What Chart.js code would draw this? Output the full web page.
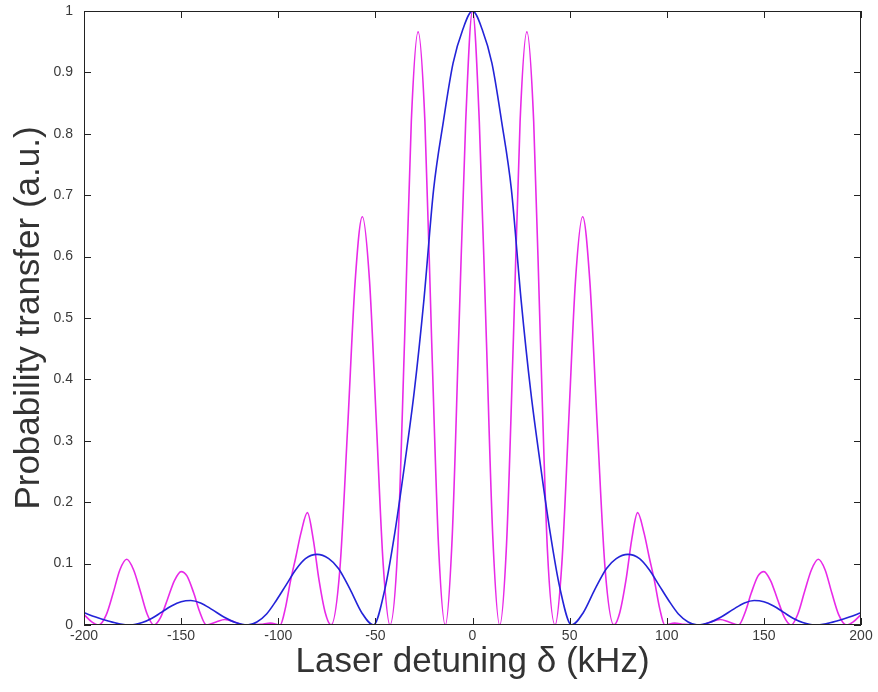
<!DOCTYPE html>
<html>
<head>
<meta charset="utf-8">
<script src="https://cdn.jsdelivr.net/npm/chart.js@4/dist/chart.umd.min.js"></script>
<style>
  html, body { margin: 0; padding: 0; background: #fff; }
  #wrap { width: 878px; height: 692px; position: relative; }
</style>
</head>
<body>
<div id="wrap"><canvas id="chart"></canvas></div>
<script>
// axis ranges and ticks
const xTicks = [-200, -150, -100, -50, 0, 50, 100, 150, 200];
const yTicks = [0, 0.1, 0.2, 0.3, 0.4, 0.5, 0.6, 0.7, 0.8, 0.9, 1];

// single pulse (blue)
const blueX = [-200, -194, -188, -182, -176, -170, -165, -160, -155, -150, -145, -140, -134, -128, -122, -116, -111, -106, -101, -96, -91, -86, -80, -74, -69, -63, -57, -51, -45, -40, -35, -30, -25, -20, -15, -10, -5,
  0, 5, 10, 15, 20, 25, 30, 35, 40, 45, 51, 57, 63, 69, 74, 80, 86, 91, 96, 101, 106, 111, 116, 122, 128, 134, 140, 145, 150, 155, 160, 165, 170, 176, 182, 188, 194, 200];
const blueY = [0.02, 0.013, 0.007, 0.002, 0, 0.004, 0.011, 0.021, 0.031, 0.038, 0.04, 0.036, 0.025, 0.013, 0.004, 0, 0.005, 0.018, 0.04, 0.065, 0.09, 0.108, 0.115, 0.108, 0.092, 0.058, 0.02, 0, 0.06, 0.15, 0.26, 0.38, 0.53, 0.71, 0.82, 0.915, 0.97,
  1.0, 0.97, 0.915, 0.82, 0.71, 0.53, 0.38, 0.26, 0.15, 0.06, 0, 0.02, 0.058, 0.092, 0.108, 0.115, 0.108, 0.09, 0.065, 0.04, 0.018, 0.005, 0, 0.004, 0.013, 0.025, 0.036, 0.04, 0.038, 0.031, 0.021, 0.011, 0.004, 0, 0.002, 0.007, 0.013, 0.02];

// Ramsey fringes (magenta)
const ramseyX = [-200, -196, -192.5, -188.5, -185, -181.5, -178, -174.5, -171, -167.5, -164, -160.5, -157, -153.5, -150, -147, -143.5, -140.5, -137, -132, -127.5, -122.5, -118, -109, -104, -99, -96.5, -93.6, -91, -88.3, -85, -82, -79, -75.8, -72.8, -68.3, -64.3, -60.4, -56.7, -53, -49.5, -46, -42.5, -38.6, -35, -31.5, -28, -24.5, -21, -17.5, -14, -10.5, -7, -3.5,
  0, 3.5, 7, 10.5, 14, 17.5, 21, 24.5, 28, 31.5, 35, 38.6, 42.5, 46, 49.5, 53, 56.7, 60.4, 64.3, 68.3, 72.8, 75.8, 79, 82, 85, 88.3, 91, 93.6, 96.5, 99, 104, 109, 118, 122.5, 127.5, 132, 137, 140.5, 143.5, 147, 150, 153.5, 157, 160.5, 164, 167.5, 171, 174.5, 178, 181.5, 185, 188.5, 192.5, 196, 200];
const ramseyY = [0.017, 0.005, 0, 0.017, 0.052, 0.09, 0.107, 0.09, 0.055, 0.018, 0, 0.013, 0.042, 0.072, 0.087, 0.08, 0.052, 0.022, 0, 0.005, 0.009, 0.005, 0, 0.001, 0.003, 0, 0.025, 0.073, 0.11, 0.15, 0.183, 0.14, 0.073, 0.02, 0, 0.09, 0.32, 0.56, 0.665, 0.56, 0.33, 0.1, 0, 0.12, 0.46, 0.82, 0.966, 0.82, 0.46, 0.13, 0, 0.14, 0.48, 0.82,
  1.0, 0.82, 0.48, 0.14, 0, 0.13, 0.46, 0.82, 0.966, 0.82, 0.46, 0.12, 0, 0.1, 0.33, 0.56, 0.665, 0.56, 0.32, 0.09, 0, 0.02, 0.073, 0.14, 0.183, 0.15, 0.11, 0.073, 0.025, 0, 0.003, 0.001, 0, 0.005, 0.009, 0.005, 0, 0.022, 0.052, 0.08, 0.087, 0.072, 0.042, 0.013, 0, 0.018, 0.055, 0.09, 0.107, 0.09, 0.052, 0.017, 0, 0.005, 0.017];

function toPoints(xs, ys) {
  return xs.map((x, i) => ({ x: x, y: ys[i] }));
}

// box around the plot with inward ticks on all four sides
const frameTicks = {
  id: 'frameTicks',
  afterDatasetsDraw(chart) {
    const { ctx, chartArea: a, scales: { x, y } } = chart;
    const len = 7;
    ctx.save();
    ctx.strokeStyle = '#222';
    ctx.lineWidth = 1;
    ctx.strokeRect(a.left + 0.5, a.top + 0.5, a.width - 1, a.height - 1);
    ctx.beginPath();
    x.ticks.forEach(t => {
      const px = Math.round(x.getPixelForValue(t.value)) + 0.5;
      ctx.moveTo(px, a.bottom);
      ctx.lineTo(px, a.bottom - len);
      ctx.moveTo(px, a.top);
      ctx.lineTo(px, a.top + len);
    });
    y.ticks.forEach(t => {
      const py = Math.round(y.getPixelForValue(t.value)) + 0.5;
      ctx.moveTo(a.left, py);
      ctx.lineTo(a.left + len, py);
      ctx.moveTo(a.right, py);
      ctx.lineTo(a.right - len, py);
    });
    ctx.stroke();
    ctx.restore();
  }
};

const fontFamily = 'Helvetica, Arial, "Liberation Sans", sans-serif';

new Chart(document.getElementById('chart'), {
  type: 'line',
  data: {
    datasets: [
      {
        label: 'Single pulse',
        data: toPoints(blueX, blueY),
        borderColor: '#2323d8',
        borderWidth: 1.6,
        pointRadius: 0,
        cubicInterpolationMode: 'monotone',
        order: 0
      },
      {
        label: 'Ramsey',
        data: toPoints(ramseyX, ramseyY),
        borderColor: '#e82ae8',
        borderWidth: 1.6,
        pointRadius: 0,
        cubicInterpolationMode: 'monotone',
        order: 1
      }
    ]
  },
  options: {
    responsive: true,
    maintainAspectRatio: false,
    animation: false,
    layout: { padding: { top: 11, right: 17, left: 0, bottom: 0 } },
    plugins: {
      legend: { display: false },
      tooltip: { enabled: false }
    },
    scales: {
      x: {
        type: 'linear',
        min: -200,
        max: 200,
        afterBuildTicks: scale => { scale.ticks = xTicks.map(v => ({ value: v })); },
        afterFit: scale => { scale.height = 67; },
        grid: { display: false, drawTicks: false },
        border: { display: false },
        ticks: { color: '#3a3a3a', padding: 3, font: { family: fontFamily, size: 14 } },
        title: {
          display: true,
          text: 'Laser detuning δ (kHz)',
          color: '#333',
          font: { family: fontFamily, size: 35 },
          padding: { top: 0, bottom: 9 }
        }
      },
      y: {
        min: 0,
        max: 1,
        afterBuildTicks: scale => { scale.ticks = yTicks.map(v => ({ value: v })); },
        afterFit: scale => {
          scale.width = 84;
          // let the plot box reach the top; the "1" label may overhang
          scale.paddingTop = 0;
          scale.paddingBottom = 0;
        },
        grid: { display: false, drawTicks: false },
        border: { display: false },
        ticks: {
          color: '#3a3a3a',
          padding: 11,
          font: { family: fontFamily, size: 14 },
          callback: v => String(v)
        },
        title: {
          display: true,
          text: 'Probability transfer (a.u.)',
          color: '#333',
          font: { family: fontFamily, size: 35 },
          padding: { top: 8, bottom: 0 }
        }
      }
    }
  },
  plugins: [frameTicks]
});
</script>
</body>
</html>
